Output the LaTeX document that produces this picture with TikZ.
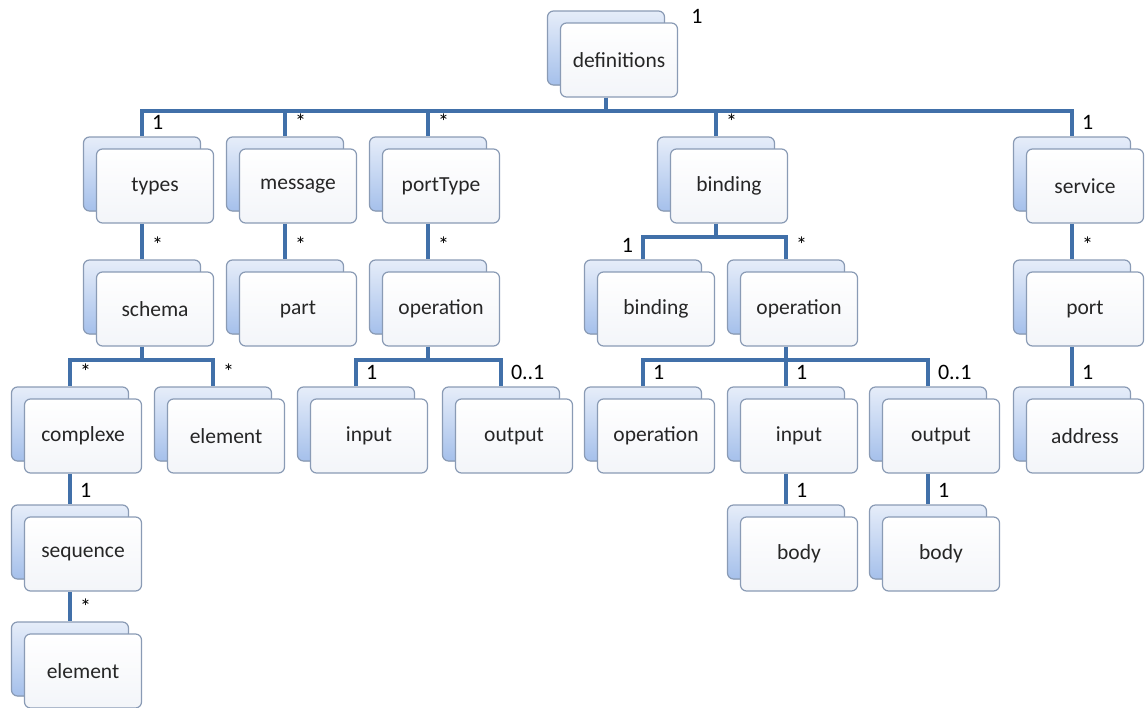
\documentclass[tikz,border=0pt]{standalone}
\usepackage{fontspec}
\setmainfont{Carlito}
\usepackage{tikz}
\usetikzlibrary{shadows, backgrounds, calc}
\usepackage{xcolor}
\definecolor{linkblue}{HTML}{4170A9}
\definecolor{cardline}{HTML}{8A9BB5}
\definecolor{backtop}{HTML}{E6EDF9}
\definecolor{backbot}{HTML}{A5C0EB}
\definecolor{cardbot}{HTML}{F3F5F9}
\definecolor{textgray}{HTML}{262626}

\tikzset{
  card/.style={draw=cardline, line width=1.2pt, rounded corners=6pt, top color=white, bottom color=cardbot,
    minimum width=117pt, minimum height=74pt, font=\fontsize{21.5}{25}\selectfont, text=textgray,
    copy shadow={shadow xshift=-13pt, shadow yshift=12pt, draw=cardline, line width=1.2pt, top color=backtop, bottom color=backbot}},
  link/.style={draw=linkblue, line width=4pt},
  mult/.style={anchor=south west, inner sep=1pt, font=\fontsize{22}{25}\selectfont, text=black, xshift=7pt, yshift=4pt},
  multleft/.style={mult, anchor=south east, xshift=-14pt}
}

\begin{document}
\begin{tikzpicture}[x=1pt, y=-1pt]
  \useasboundingbox (0,0) rectangle (1145,707);

  % root
  \node[card] (defs) at (619,60) {definitions};
  \node[mult, anchor=south west, xshift=0pt, yshift=0pt] (m-defs) at ([xshift=5pt,yshift=-6pt]defs.north east) {1};

  % first level
  \node[card] (types) at (155,186) {types};
  \node[card] (message) at (298,186) {message};
  \node[card] (portType) at (441,186) {portType};
  \node[card] (binding) at (729,186) {binding};
  \node[card] (service) at (1085,186) {service};

  % second level
  \node[card] (schema) at (155,309) {schema};
  \node[card] (part) at (298,309) {part};
  \node[card] (ptOp) at (441,309) {operation};
  \node[card] (bdBinding) at (656,309) {binding};
  \node[card] (bdOp) at (799,309) {operation};
  \node[card] (port) at (1085,309) {port};

  % third level
  \node[card] (complexe) at (83,436) {complexe};
  \node[card] (schElem) at (226,436) {element};
  \node[card] (ptIn) at (369,436) {input};
  \node[card] (ptOut) at (514,436) {output};
  \node[card] (bdOpOp) at (656,436) {operation};
  \node[card] (bdIn) at (799,436) {input};
  \node[card] (bdOut) at (941,436) {output};
  \node[card] (address) at (1085,436) {address};

  % fourth and fifth level
  \node[card] (sequence) at (83,554) {sequence};
  \node[card] (inBody) at (799,554) {body};
  \node[card] (outBody) at (941,554) {body};
  \node[card] (seqElem) at (83,671) {element};

  \begin{scope}[on background layer]
    \foreach \up/\kid/\m in {defs/types/1, defs/message/*, defs/portType/*, defs/binding/*, defs/service/1,
        types/schema/*, message/part/*, portType/ptOp/*, binding/bdOp/*, service/port/*,
        schema/complexe/*, schema/schElem/*, ptOp/ptIn/1, ptOp/ptOut/0..1,
        bdOp/bdOpOp/1, bdOp/bdIn/1, bdOp/bdOut/0..1, port/address/1,
        complexe/sequence/1, sequence/seqElem/*, bdIn/inBody/1, bdOut/outBody/1}
      \draw[link] ([xshift=-13pt]\up.south) -- ++(0,13) -| ([xshift=-13pt,yshift=12pt]\kid.north)
        node[mult] (m-\kid) {\m};
    \draw[link] ([xshift=-13pt]binding.south) -- ++(0,13) -| ([xshift=-13pt,yshift=12pt]bdBinding.north)
      node[multleft] (m-bdBinding) {1};
  \end{scope}
\end{tikzpicture}
\end{document}
